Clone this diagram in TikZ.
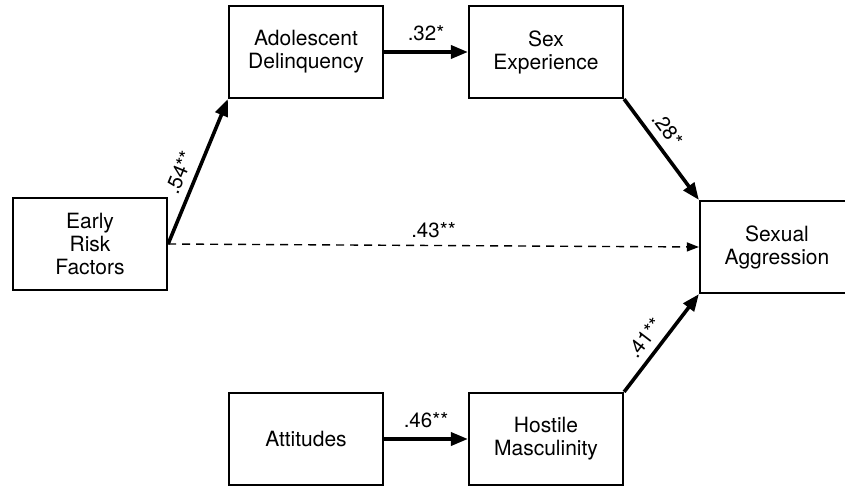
\documentclass[tikz,border=0pt]{standalone}
\usepackage{fontspec}
\setmainfont{TeX Gyre Heros}
\usetikzlibrary{arrows.meta,positioning}
\tikzset{var/.style={
        draw,
        line width=2.2pt,
        minimum width=154pt,
        minimum height=92pt,
        align=center,
        font=\fontsize{21}{23}\selectfont,
    },
    path/.style={
        line width=3.6pt,
        -{Triangle[length=17pt,width=13pt]},
    },
    coef/.style={
        font=\fontsize{20.5}{22}\selectfont,
        above=4pt,
    }
}

\begin{document}
\begin{tikzpicture}[node distance=3cm,on grid,auto]
  \useasboundingbox (0pt,0pt) rectangle (845pt,-486pt);
  \node[var] (early) at (90pt,-244pt) {Early\\Risk\\Factors};
  \node[var] (delinq) [above right=192pt and 216pt of early] {Adolescent\\Delinquency};
  \node[var] (sexexp) [right=240pt of delinq] {Sex\\Experience};
  \node[var] (aggr) [below right=195pt and 231pt of sexexp] {Sexual\\Aggression};
  \node[var] (attit) [below=387pt of delinq] {Attitudes};
  \node[var] (hostile) [right=240pt of attit] {Hostile\\Masculinity};
  \path[path]
  (early.east)
  edge node[coef,sloped,pos=0.45] {.54**} (delinq.south west)
  (delinq)
  edge node[coef,above=6pt] {.32*} (sexexp)
  (sexexp.south east)
  edge node[coef,sloped,pos=0.4] {.28*} (aggr.north west)
  (attit)
  edge node[coef,above=6pt] {.46**} (hostile)
  (hostile.north east)
  edge node[coef,sloped,pos=0.45] {.41**} (aggr.south west)
  ;
  \draw[line width=1.4pt,dash pattern=on 8pt off 6pt,-{Triangle[length=12pt,width=9pt]}]
  (early.east) -- node[coef] {.43**} (aggr.west);
\end{tikzpicture}
\end{document}
